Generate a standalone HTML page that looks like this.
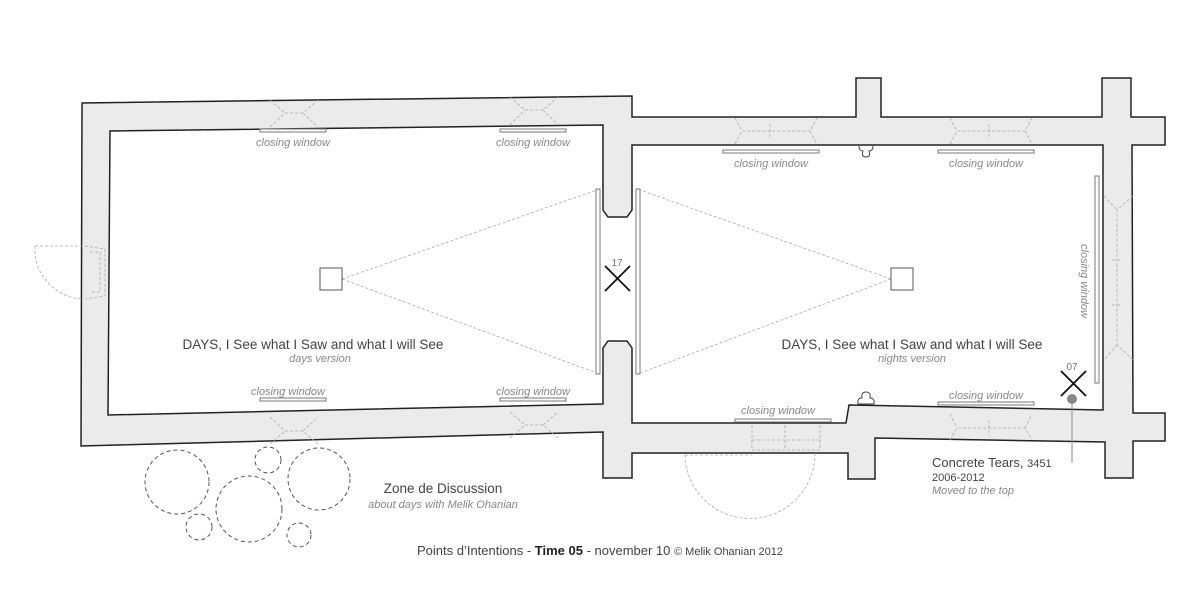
<!DOCTYPE html>
<html><head><meta charset="utf-8"><style>
html,body{margin:0;padding:0;background:#fff;}
svg{display:block;}
text{font-family:"Liberation Sans",sans-serif;}
.cw{font-size:11px;font-style:italic;fill:#888;text-anchor:middle;}
.tt{font-size:13.5px;fill:#444;text-anchor:middle;}
.st{font-size:11px;font-style:italic;fill:#888;text-anchor:middle;}
.d{fill:none;stroke:#aaa;stroke-width:0.8;stroke-dasharray:3,2;}
.c{fill:none;stroke:#555;stroke-width:1;stroke-dasharray:4,3;}
.w{fill:#fff;stroke:#777;stroke-width:1;}
</style></head><body>
<svg width="1200" height="600" viewBox="0 0 1200 600" xmlns="http://www.w3.org/2000/svg">
<path d="M82,103 L632,96 L632,117 L856,117 L856,78 L881,78 L881,117 L1102,117 L1102,78 L1131,78 L1131,117 L1165,117 L1165,145 L1132,145 L1133,413 L1165,413 L1165,441 L1133,441 L1133,478 L1105,478 L1105,442 L875,438 L875,479 L848,479 L848,453 L632,453 L632,478 L603,478 L603,432 L81,446 Z" fill="#ebebeb" stroke="#222" stroke-width="1.5" stroke-linejoin="miter"/>
<path d="M110,131 L603,125 L603,210 L608,217 L627,217 L632,210 L632,145 L1103,145 L1103,410 L849,405 L846,423 L632,423 L632,348 L627,341 L608,341 L603,348 L603,404 L108,415 Z" fill="#fff" stroke="#222" stroke-width="1.5"/>
<g class="d">
<path d="M270,100 L285,113 L303,113 L318,100 M270,127 L285,113 M303,113 L318,127"/>
<path d="M510,97 L525,110 L543,110 L558,97 M510,125 L525,110 M543,110 L558,125"/>
<path d="M270,444 L285,431 L303,431 L318,444 M270,417 L285,431 M303,431 L318,417"/>
<path d="M510,438 L525,425 L543,425 L558,438 M510,412 L525,425 M543,425 L558,412"/>
<path d="M735,118 L742,131 L810,131 L817,118 M735,144 L742,131 M810,131 L817,144 M770,124 L770,138"/>
<path d="M950,118 L957,131 L1025,131 L1032,118 M950,144 L957,131 M1025,131 L1032,144 M989,124 L989,138"/>
<path d="M950,440 L957,428 L1025,428 L1032,440 M950,414 L957,428 M1025,428 L1032,414 M989,420 L989,436"/>
<path d="M1133,196 L1117,210 L1117,345 L1133,360 M1104,196 L1117,210 M1117,345 L1104,360 M1112,260 L1122,260 M1112,305 L1122,305"/>
<path d="M752,425 L752,450 L820,450 L820,425 M752,440 L820,440 M785,425 L785,450"/>
<path d="M85,246 L105,249 L105,296 L85,299 M90,252 L100,252 L100,292 L90,292"/>
<path d="M35,246 L85,246 M35,246 A50,50 0 0 0 82,299"/>
<path d="M685,455 L752,455 M685,455 A65,65 0 0 0 815,452"/>
</g>
<g class="w">
<rect x="260" y="129" width="66" height="3"/><rect x="500" y="129" width="66" height="3"/>
<rect x="260" y="398" width="66" height="3"/><rect x="500" y="398" width="66" height="3"/>
<rect x="723" y="150" width="96" height="3"/><rect x="938" y="150" width="96" height="3"/>
<rect x="735" y="419" width="96" height="3"/><rect x="938" y="402" width="96" height="3"/>
<rect x="596" y="189" width="4" height="185"/><rect x="636" y="189" width="4" height="185"/>
<rect x="1095" y="176" width="4" height="207"/>
</g>
<path d="M859,146 q0,5 4,5 q-2,6 3,6 q5,0 3,-6 q4,0 4,-5" fill="#fff" stroke="#444" stroke-width="1"/>
<path d="M858,404 q-1,-6 4,-6 q-1,-6 4,-6 q5,0 4,6 q5,0 4,6 z" fill="#fff" stroke="#444" stroke-width="1"/>
<g class="d"><path d="M342,279 L597,190 M342,279 L597,373 M891,279 L640,190 M891,279 L640,373"/></g>
<rect x="320" y="268" width="22" height="22" fill="#fff" stroke="#555" stroke-width="1"/>
<rect x="891" y="268" width="22" height="22" fill="#fff" stroke="#555" stroke-width="1"/>
<path d="M605,266 L630,291 M630,266 L605,291" stroke="#111" stroke-width="1.8"/>
<text x="617" y="266" font-family="Liberation Mono" font-size="10" fill="#777" text-anchor="middle">17</text>
<path d="M1061,371 L1086,396 M1086,371 L1061,396" stroke="#111" stroke-width="1.8"/>
<text x="1072" y="370" font-family="Liberation Mono" font-size="10" fill="#777" text-anchor="middle">07</text>
<circle cx="1072" cy="399" r="5" fill="#888"/>
<line x1="1072" y1="399" x2="1072" y2="463" stroke="#888" stroke-width="1"/>
<text class="cw" x="293" y="146">closing window</text>
<text class="cw" x="533" y="146">closing window</text>
<text class="cw" x="288" y="395">closing window</text>
<text class="cw" x="533" y="395">closing window</text>
<text class="cw" x="771" y="167">closing window</text>
<text class="cw" x="986" y="167">closing window</text>
<text class="cw" x="778" y="414">closing window</text>
<text class="cw" x="986" y="399">closing window</text>
<text class="cw" transform="translate(1081,281) rotate(90)">closing window</text>
<text class="tt" x="313" y="349">DAYS, I See what I Saw and what I will See</text>
<text class="st" x="320" y="362">days version</text>
<text class="tt" x="912" y="349">DAYS, I See what I Saw and what I will See</text>
<text class="st" x="912" y="362">nights version</text>
<text x="932" y="467" font-size="13" fill="#444">Concrete Tears, <tspan font-size="11">3451</tspan></text>
<text x="932" y="481" font-size="11" fill="#444">2006-2012</text>
<text x="932" y="494" font-size="11" font-style="italic" fill="#888">Moved to the top</text>
<text class="tt" x="443" y="493">Zone de Discussion</text>
<text class="st" x="443" y="508">about days with Melik Ohanian</text>
<text x="600" y="555" font-size="13" fill="#444" text-anchor="middle">Points d’Intentions - <tspan font-weight="bold" fill="#222">Time 05</tspan> - november 10 <tspan font-size="11">© Melik Ohanian 2012</tspan></text>
<circle class="c" cx="177" cy="482" r="32"/>
<circle class="c" cx="268" cy="460" r="13"/>
<circle class="c" cx="249" cy="509" r="33"/>
<circle class="c" cx="319" cy="479" r="31"/>
<circle class="c" cx="199" cy="527" r="13"/>
<circle class="c" cx="299" cy="535" r="12"/>
</svg>
</body></html>
